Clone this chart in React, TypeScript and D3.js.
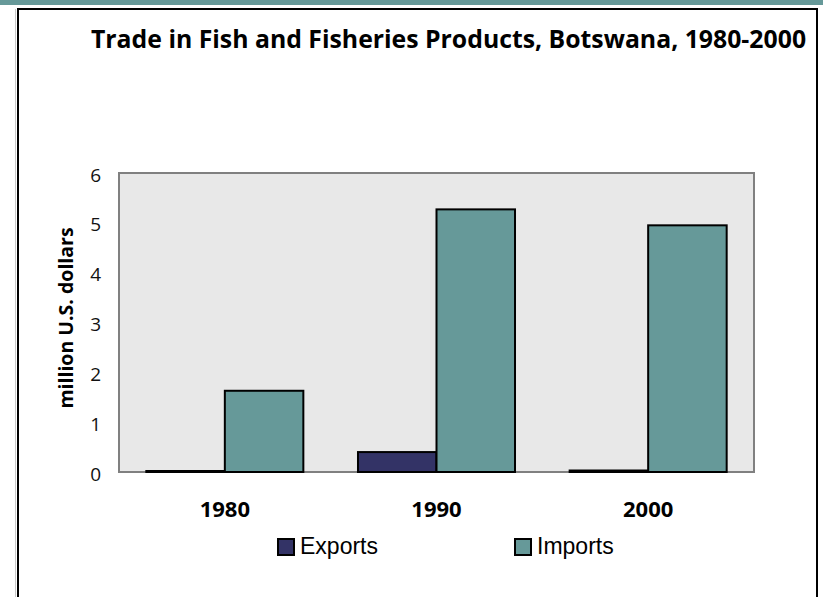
import React from "react";
import * as d3 from "d3";

const categories = ["1980", "1990", "2000"];
const seriesNames = ["Exports", "Imports"];
const exportsValues = [0.02, 0.4, 0.03];
const importsValues = [1.63, 5.27, 4.95];
const yTicks = [0, 1, 2, 3, 4, 5, 6];
const colors = ["#333366", "#669999"];

const W = 823;
const H = 597;

export default function App() {
  const plot = { left: 119, right: 754, top: 173, bottom: 472 };
  const x = d3.scaleBand<string>().domain(categories).range([plot.left, plot.right]).padding(0);
  const xs = d3
    .scaleBand<string>()
    .domain(seriesNames)
    .range([0, x.bandwidth()])
    .paddingInner(0)
    .paddingOuter(0.348);
  const y = d3.scaleLinear().domain([0, 6]).range([plot.bottom, plot.top]);
  const series = [exportsValues, importsValues];
  const sans = "'Open Sans', 'Noto Sans', sans-serif";
  const arial = "'Liberation Sans', Arial, sans-serif";

  return (
    <svg
      width={W}
      height={H}
      style={{ position: "absolute", left: 0, top: 0, background: "#fff" }}
    >
      <rect x={0} y={0} width={W} height={5} fill="#669999" />
      <line x1={15.5} y1={9} x2={15.5} y2={H} stroke="#c8c8c8" strokeWidth={1} />
      <rect x={18} y={9} width={799} height={H + 10} fill="#fff" stroke="#000" strokeWidth={2} />
      <text x={91} y={48} fontFamily={sans} fontWeight="bold" fontSize={24.8} fill="#000">
        Trade in Fish and Fisheries Products, Botswana, 1980-2000
      </text>
      <rect
        x={plot.left}
        y={plot.top}
        width={plot.right - plot.left}
        height={plot.bottom - plot.top}
        fill="#e8e8e8"
        stroke="#808080"
        strokeWidth={2}
      />
      {series.map((vals, si) =>
        vals.map((v, ci) => (
          <rect
            key={`${si}-${ci}`}
            x={(x(categories[ci]) as number) + (xs(seriesNames[si]) as number)}
            y={y(v)}
            width={xs.bandwidth()}
            height={y(0) - y(v)}
            fill={colors[si]}
            stroke="#000"
            strokeWidth={2}
          />
        ))
      )}
      {yTicks.map((t) => (
        <text
          key={t}
          x={101}
          y={y(t) + 1.5}
          textAnchor="end"
          dominantBaseline="central"
          fontFamily={sans}
          fontSize={19}
          fill="#111"
        >
          {t}
        </text>
      ))}
      <text
        transform={`translate(73,318) rotate(-90)`}
        textAnchor="middle"
        fontFamily={sans}
        fontWeight="bold"
        fontSize={19.5}
        fill="#000"
      >
        million U.S. dollars
      </text>
      {categories.map((c) => (
        <text
          key={c}
          x={(x(c) as number) + x.bandwidth() / 2}
          y={517}
          textAnchor="middle"
          fontFamily={sans}
          fontWeight="bold"
          fontSize={22}
          fill="#000"
        >
          {c}
        </text>
      ))}
      {seriesNames.map((s, i) => {
        const lx = [278, 515][i];
        return (
          <g key={s}>
            <rect x={lx} y={539} width={16} height={16} fill={colors[i]} stroke="#000" strokeWidth={2} />
            <text x={lx + 22} y={554} fontFamily={arial} fontSize={23} fill="#000">
              {s}
            </text>
          </g>
        );
      })}
    </svg>
  );
}
